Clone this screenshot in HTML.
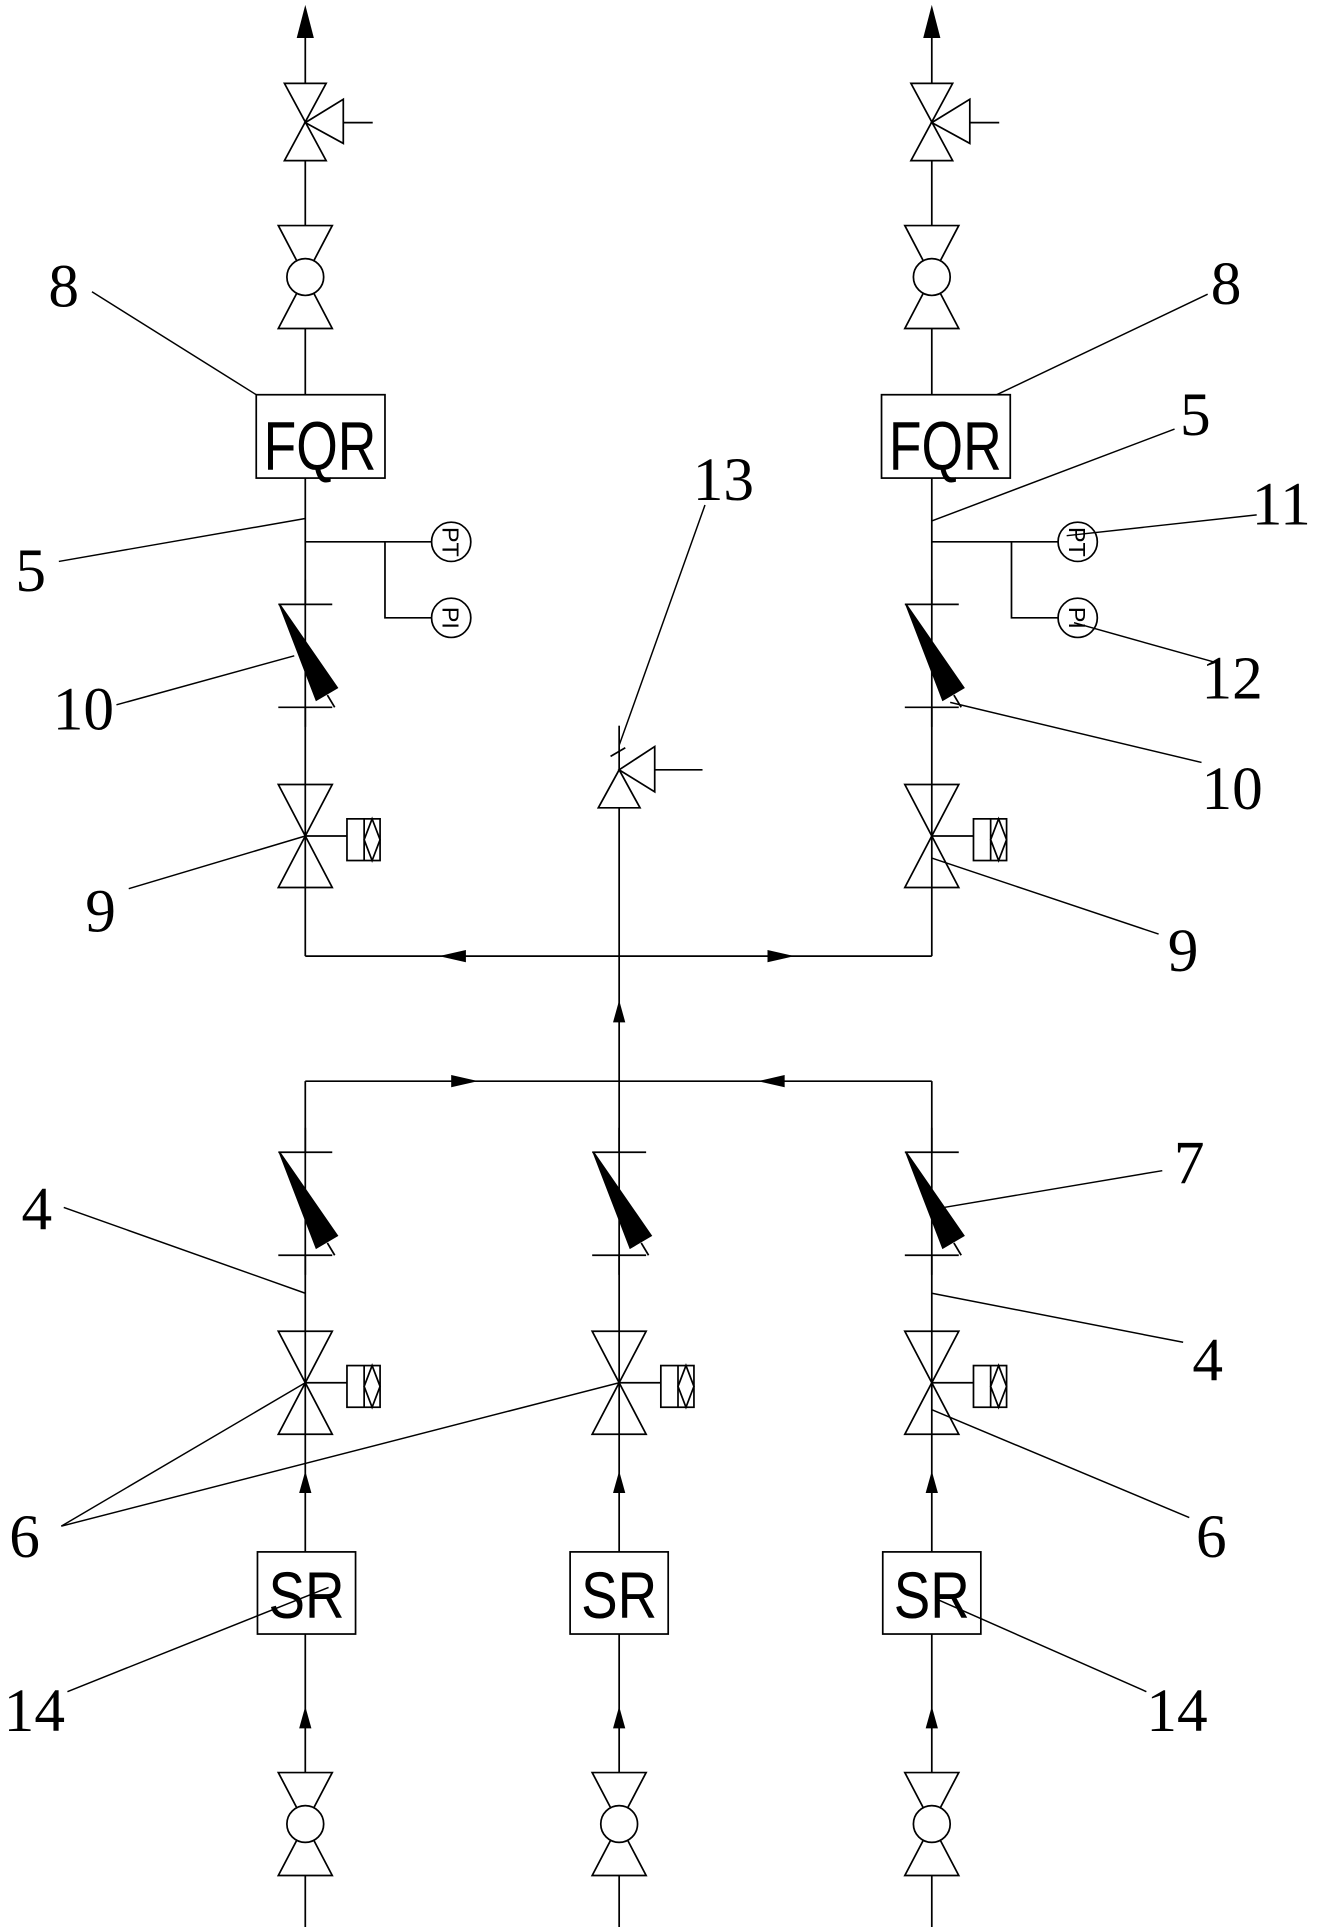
<!DOCTYPE html>
<html><head><meta charset="utf-8"><style>html,body{margin:0;padding:0;background:#fff}svg{display:block}</style></head>
<body>
<svg width="1318" height="1927" viewBox="0 0 1075 1572" preserveAspectRatio="none" xmlns="http://www.w3.org/2000/svg">
<defs>
<g id="ball" fill="none" stroke="#000" stroke-width="1.4">
 <path d="M-22,-42 L22,-42 L-22,42 L22,42 Z" fill="#fff"/>
 <circle cx="0" cy="0" r="15" fill="#fff"/>
</g>
<g id="act" fill="none" stroke="#000" stroke-width="1.4">
 <path d="M-22,-42 L22,-42 L-22,42 L22,42 Z"/>
 <line x1="0" y1="0" x2="34" y2="0"/>
 <rect x="34" y="-14" width="27" height="34"/>
 <line x1="48" y1="-14" x2="48" y2="20"/>
 <path d="M54.5,-14 L48,3 L54.5,20 L61,3 Z"/>
</g>
<g id="chk" stroke="#000" stroke-width="1.4">
 <line x1="-22" y1="0" x2="22" y2="0"/>
 <line x1="-22" y1="84" x2="22" y2="84"/>
 <line x1="0" y1="-20" x2="0" y2="0"/>
 <line x1="0" y1="84" x2="0" y2="100"/>
 <path d="M-21,0 L26,68 L9,78 Z" fill="#000"/>
 <line x1="18" y1="74" x2="24" y2="84"/>
</g>
<path id="aup" d="M0,-12 L-5,6 L5,6 Z" fill="#000"/>
</defs>
<g stroke="#000" stroke-width="1.4" fill="none">
 <line x1="249" y1="20" x2="249" y2="780"/>
 <line x1="760" y1="20" x2="760" y2="780"/>
 <line x1="505" y1="628" x2="505" y2="882"/>
 <line x1="249" y1="882" x2="249" y2="1572"/>
 <line x1="505" y1="882" x2="505" y2="1572"/>
 <line x1="760" y1="882" x2="760" y2="1572"/>
 <line x1="249" y1="780" x2="760" y2="780"/>
 <line x1="249" y1="882" x2="760" y2="882"/>
</g>
<path d="M249,4 L242,31 L256,31 Z"/>
<path d="M760,4 L753,31 L767,31 Z"/>
<g stroke="#000" stroke-width="1.4" fill="#fff">
 <path d="M232,68 L266,68 L232,131 L266,131 Z"/>
 <path d="M249,100 L280,81 L280,117 Z"/>
 <line x1="280" y1="100" x2="304" y2="100"/>
 <path d="M743,68 L777,68 L743,131 L777,131 Z"/>
 <path d="M760,100 L791,81 L791,117 Z"/>
 <line x1="791" y1="100" x2="815" y2="100"/>
</g>
<use href="#ball" x="249" y="226"/>
<use href="#ball" x="760" y="226"/>
<g stroke="#000" stroke-width="1.4" fill="#fff">
 <rect x="209" y="322" width="105" height="68"/>
 <rect x="719" y="322" width="105" height="68"/>
</g>
<g font-family="Liberation Sans, sans-serif" font-size="56" text-anchor="middle" fill="#000">
 <text x="261" y="383" textLength="92" lengthAdjust="spacingAndGlyphs">FQR</text>
 <text x="771" y="383" textLength="92" lengthAdjust="spacingAndGlyphs">FQR</text>
</g>
<g stroke="#000" stroke-width="1.4" fill="#fff">
 <polyline points="249,442 352,442" fill="none"/>
 <polyline points="314,442 314,504 352,504" fill="none"/>
 <circle cx="368" cy="442" r="16"/><circle cx="368" cy="504" r="16"/>
 <polyline points="760,442 863,442" fill="none"/>
 <polyline points="825,442 825,504 863,504" fill="none"/>
 <circle cx="879" cy="442" r="16"/><circle cx="879" cy="504" r="16"/>
</g>
<g font-family="Liberation Sans, sans-serif" font-size="19" fill="#000" text-anchor="middle">
 <text transform="translate(361,442) rotate(90)">PT</text>
 <text transform="translate(361,504) rotate(90)">PI</text>
 <text transform="translate(872,442) rotate(90)">PT</text>
 <text transform="translate(872,504) rotate(90)">PI</text>
</g>
<use href="#chk" x="249" y="493"/>
<use href="#chk" x="760" y="493"/>
<use href="#act" x="249" y="682"/>
<use href="#act" x="760" y="682"/>
<g stroke="#000" stroke-width="1.4" fill="#fff">
 <path d="M505,628 L488,659 L522,659 Z"/>
 <path d="M505,628 L534,609 L534,646 Z"/>
 <line x1="534" y1="628" x2="573" y2="628"/>
 <line x1="505" y1="592" x2="505" y2="628"/>
 <line x1="498" y1="617" x2="510" y2="610"/>
</g>
<path d="M358,780 L380,775 L380,785 Z"/>
<path d="M648,780 L626,775 L626,785 Z"/>
<path d="M390,882 L368,877 L368,887 Z"/>
<path d="M618,882 L640,877 L640,887 Z"/>
<use href="#aup" x="505" y="828"/>
<use href="#chk" x="249" y="940"/>
<use href="#chk" x="505" y="940"/>
<use href="#chk" x="760" y="940"/>
<use href="#act" x="249" y="1128"/>
<use href="#act" x="505" y="1128"/>
<use href="#act" x="760" y="1128"/>
<use href="#aup" x="249" y="1212"/><use href="#aup" x="505" y="1212"/><use href="#aup" x="760" y="1212"/>
<use href="#aup" x="249" y="1404"/><use href="#aup" x="505" y="1404"/><use href="#aup" x="760" y="1404"/>
<g stroke="#000" stroke-width="1.4" fill="#fff">
 <rect x="210" y="1266" width="80" height="67"/>
 <rect x="465" y="1266" width="80" height="67"/>
 <rect x="720" y="1266" width="80" height="67"/>
</g>
<g font-family="Liberation Sans, sans-serif" font-size="54" text-anchor="middle" fill="#000">
 <text x="250" y="1320" textLength="62" lengthAdjust="spacingAndGlyphs">SR</text>
 <text x="505" y="1320" textLength="62" lengthAdjust="spacingAndGlyphs">SR</text>
 <text x="760" y="1320" textLength="62" lengthAdjust="spacingAndGlyphs">SR</text>
</g>
<use href="#ball" x="249" y="1488"/>
<use href="#ball" x="505" y="1488"/>
<use href="#ball" x="760" y="1488"/>
<g stroke="#000" stroke-width="1.2">
 <line x1="75" y1="238" x2="209" y2="322"/>
 <line x1="48" y1="458" x2="249" y2="423"/>
 <line x1="95" y1="575" x2="240" y2="535"/>
 <line x1="105" y1="725" x2="249" y2="682"/>
 <line x1="985" y1="240" x2="813" y2="322"/>
 <line x1="958" y1="350" x2="760" y2="425"/>
 <line x1="1025" y1="420" x2="870" y2="437"/>
 <line x1="990" y1="540" x2="876" y2="508"/>
 <line x1="980" y1="622" x2="775" y2="573"/>
 <line x1="945" y1="762" x2="760" y2="700"/>
 <line x1="575" y1="412" x2="505" y2="608"/>
 <line x1="948" y1="955" x2="770" y2="985"/>
 <line x1="52" y1="985" x2="249" y2="1055"/>
 <line x1="965" y1="1095" x2="760" y2="1055"/>
 <line x1="50" y1="1245" x2="249" y2="1128"/>
 <line x1="50" y1="1245" x2="505" y2="1128"/>
 <line x1="970" y1="1238" x2="760" y2="1150"/>
 <line x1="55" y1="1380" x2="268" y2="1295"/>
 <line x1="935" y1="1380" x2="765" y2="1305"/>
</g>
<g font-family="Liberation Serif, serif" font-size="50" fill="#000" text-anchor="middle">
 <text x="52" y="250">8</text>
 <text x="25" y="482">5</text>
 <text x="68" y="595">10</text>
 <text x="82" y="760">9</text>
 <text x="1000" y="248">8</text>
 <text x="975" y="355">5</text>
 <text x="1045" y="428">11</text>
 <text x="1005" y="570">12</text>
 <text x="1005" y="660">10</text>
 <text x="965" y="792">9</text>
 <text x="590" y="408">13</text>
 <text x="970" y="965">7</text>
 <text x="30" y="1003">4</text>
 <text x="985" y="1126">4</text>
 <text x="20" y="1270">6</text>
 <text x="988" y="1270">6</text>
 <text x="28" y="1412">14</text>
 <text x="960" y="1412">14</text>
</g>
</svg>
</body></html>
